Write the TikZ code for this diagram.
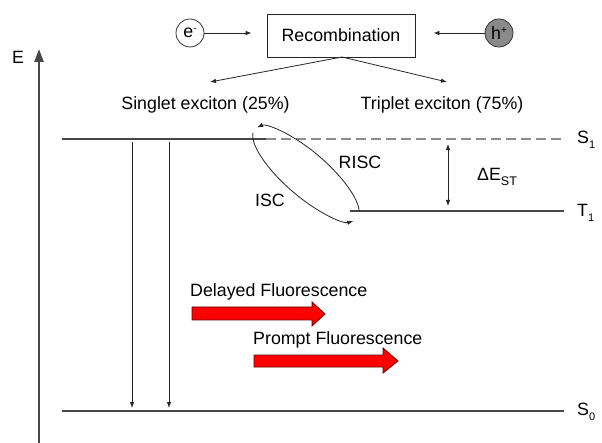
\documentclass[tikz,border=0pt]{standalone}
\usepackage{fontspec}
\setmainfont{Liberation Sans}
\usetikzlibrary{arrows.meta}
\definecolor{lvl}{HTML}{474747}
\definecolor{dashc}{HTML}{8C8C8C}
\definecolor{hole}{HTML}{8A8A8A}
\tikzset{
  lbl/.style={font=\fontsize{17.8}{20}\selectfont, inner sep=0pt},
  circ/.style={circle, draw=black!80, line width=0.8pt, minimum size=28pt, inner sep=0pt, font=\fontsize{17.8}{20}\selectfont},
  recbox/.style={draw=black!85, line width=0.8pt, minimum width=148pt, minimum height=43pt, inner sep=0pt, font=\fontsize{17.8}{20}\selectfont},
  thinarr/.style={draw=black!85, line width=0.8pt, -{Latex[length=6pt,width=4.5pt]}},
  level/.style={draw=lvl, line width=2.6pt},
  dlevel/.style={draw=dashc, line width=2.6pt, dash pattern=on 10pt off 5pt},
  bigarr/.style={fill=red, draw=black!60!red, line width=0.8pt, line join=miter},
  sub/.style={}
}
\newcommand{\lsub}[1]{\raisebox{-4.5pt}{\fontsize{11}{11}\selectfont #1}}
\begin{document}
\begin{tikzpicture}[x=1pt,y=-1pt]
\useasboundingbox (0,0) rectangle (602,443);
\fill[white] (0,0) rectangle (602,443);

% energy axis
\coordinate (ebot) at (39,443);
\coordinate (etop) at (39,49);
\draw[draw=lvl, line width=2.4pt, -{Triangle[length=13pt,width=9pt]}] (ebot) -- (etop);
\node[lbl] (elab) at (18,57) {E};

% top: recombination
\node[circ] (em) at (190,33) {e\raisebox{6pt}{\fontsize{10}{10}\selectfont -}};
\node[circ, fill=hole] (hp) at (499,33) {h\raisebox{6pt}{\fontsize{10}{10}\selectfont +}};
\node[recbox] (rec) at (341,35.5) {Recombination};
\draw[thinarr, shorten >=15pt] (em.east) -- (em.east -| rec.west);
\draw[thinarr, shorten >=18pt] (hp.west) -- (hp.west -| rec.east);
\coordinate (recb) at (342,57);
\coordinate (sgT) at (210,82);
\coordinate (trT) at (447,82);
\draw[thinarr] (recb) -- (sgT);
\draw[thinarr] (recb) -- (trT);
\node[lbl] (sing) at (205.5,105) {Singlet exciton (25\%)};
\node[lbl] (trip) at (442,105) {Triplet exciton (75\%)};

% levels
\coordinate (s1a) at (62,139);
\coordinate (s1b) at (266,139);
\coordinate (s1c) at (564,139);
\coordinate (t1a) at (350,211);
\coordinate (t1b) at (564,211);
\coordinate (s0a) at (62,411);
\coordinate (s0b) at (564,411);
\draw[dlevel] (s1b) -- (s1c);
\draw[level] (s1a) -- (s1b);
\draw[level] (t1a) -- (t1b);
\draw[level] (s0a) -- (s0b);
\node[lbl, anchor=west] (s1lab) at (577,140) {S\lsub{1}};
\node[lbl, anchor=west] (t1lab) at (577,213) {T\lsub{1}};
\node[lbl, anchor=west] (s0lab) at (577,412) {S\lsub{0}};

% vertical decay arrows
\coordinate (v1t) at (132,142);
\coordinate (v1b) at (132,408);
\coordinate (v2t) at (169,142);
\coordinate (v2b) at (169,408);
\draw[thinarr] (v1t) -- (v1b);
\draw[thinarr] (v2t) -- (v2b);

% Delta E_ST
\coordinate (dt) at (448,144);
\coordinate (db) at (448,206);
\draw[draw=black!85, line width=0.8pt, {Latex[length=6pt,width=4.5pt]}-{Latex[length=6pt,width=4.5pt]}] (dt) -- (db);
\node[lbl, anchor=west] (dest) at (477,177) {ΔE\raisebox{-5pt}{\fontsize{12.5}{12.5}\selectfont ST}};

% ISC / RISC ellipse arcs
\begin{scope}[shift={(306,174)}, rotate=-41]
  \draw[thinarr] (18:68pt and 22pt) arc[start angle=18, end angle=172, x radius=68pt, y radius=22pt];
  \draw[thinarr] (190:68pt and 22pt) arc[start angle=190, end angle=348, x radius=68pt, y radius=22pt];
\end{scope}
\node[lbl] (risc) at (360,162) {RISC};
\node[lbl] (isc) at (270,200) {ISC};

% fluorescence arrows
\node[lbl, anchor=west] (dfl) at (190,292) {Delayed Fluorescence};
\draw[bigarr] (192,307) -- (312,307) -- (312,302) -- (325,314) -- (312,326) -- (312,320) -- (192,320) -- cycle;
\node[lbl, anchor=west] (pfl) at (253,340) {Prompt Fluorescence};
\draw[bigarr] (254,355) -- (383,355) -- (383,348) -- (398,361) -- (383,373) -- (383,367) -- (254,367) -- cycle;
\end{tikzpicture}
\end{document}
